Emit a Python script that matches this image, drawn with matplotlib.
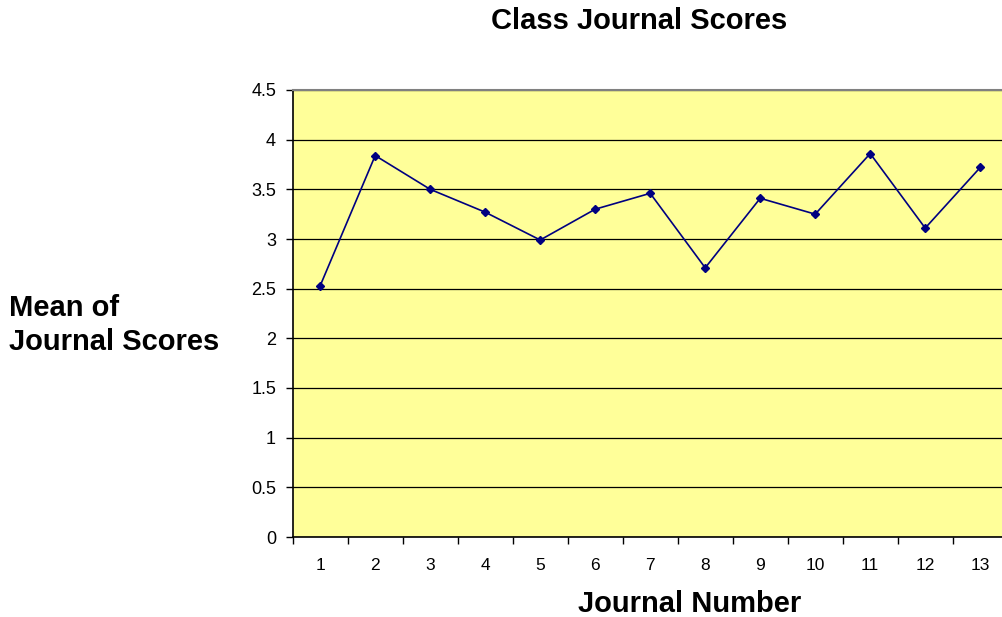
import matplotlib.pyplot as plt
import numpy as np

plt.rcParams['font.family'] = ['Liberation Sans', 'DejaVu Sans']

# Mean journal score for each journal
journals = list(range(1, 14))
mean_scores = [2.53, 3.84, 3.50, 3.27, 2.99, 3.30, 3.46, 2.71, 3.41, 3.25, 3.86, 3.11, 3.72]
y_ticks = [0, 0.5, 1, 1.5, 2, 2.5, 3, 3.5, 4, 4.5]

fig = plt.figure(figsize=(10.03, 6.17), dpi=100)
ax = fig.add_axes([292.7 / 1003, 80 / 617, 715 / 1003, 447 / 617])
ax.set_facecolor('#FFFF99')

ax.plot(journals, mean_scores, color='#000080', linewidth=1.2,
        marker='D', markersize=4.5, markerfacecolor='#000080',
        markeredgecolor='#000080', zorder=3)

ax.set_xlim(0.5, 13.5)
ax.set_ylim(0, 4.5)
ax.set_yticks(y_ticks)
ax.set_yticklabels([f'{t:g}' for t in y_ticks])
ax.set_xticks(journals)
ax.set_xticklabels([str(j) for j in journals])
ax.set_xticks(np.arange(0.5, 14, 1), minor=True)

ax.yaxis.grid(True, color='black', linewidth=0.9)
ax.set_axisbelow(True)

ax.tick_params(axis='x', which='major', length=0, pad=15, labelsize=12.5)
ax.tick_params(axis='x', which='minor', length=5, width=1, direction='out')
ax.tick_params(axis='y', length=5, width=1, direction='out', pad=7, labelsize=13)

for side in ['left', 'bottom']:
    ax.spines[side].set_color('black')
    ax.spines[side].set_linewidth(1.2)
ax.spines['top'].set_color('#808080')
ax.spines['top'].set_linewidth(1.5)
ax.spines['right'].set_visible(False)

fig.text(639 / 1003, 1 - 21 / 617, 'Class Journal Scores', ha='center', va='center',
         fontsize=21, fontweight='bold')
fig.text(9 / 1003, 1 - 325 / 617, 'Mean of\nJournal Scores', ha='left', va='center',
         fontsize=21, fontweight='bold', linespacing=1.28)
fig.text(690 / 1003, 1 - 604 / 617, 'Journal Number', ha='center', va='center',
         fontsize=21, fontweight='bold')

fig.savefig('out.png', dpi=100)
